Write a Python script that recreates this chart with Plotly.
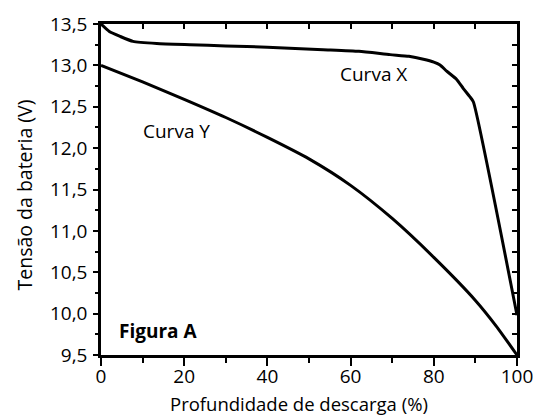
import plotly.graph_objects as go

# Curve X
depth_x = [0, 2, 4.6, 7.7, 13.4, 21.4, 30, 40, 53.4, 62, 69.5, 74, 77.5, 80, 81.5, 83.1, 85.5, 87.1, 88.7, 89.5, 100]
volt_x = [13.5, 13.41, 13.35, 13.29, 13.265, 13.25, 13.235, 13.22, 13.19, 13.17, 13.13, 13.11, 13.075, 13.04, 13.005, 12.93, 12.83, 12.72, 12.62, 12.56, 9.98]

# Curve Y
depth_y = [0, 10, 20, 30, 40, 50, 60, 70, 80, 90, 95, 100]
volt_y = [13.0, 12.80, 12.59, 12.37, 12.13, 11.87, 11.55, 11.15, 10.68, 10.16, 9.85, 9.5]

x_ticks = [0, 20, 40, 60, 80, 100]
y_ticks = [9.5, 10.0, 10.5, 11.0, 11.5, 12.0, 12.5, 13.0, 13.5]

x_title = "Profundidade de descarga (%)"
y_title = "Tensão da bateria (V)"

FONT = "Open Sans"

fig = go.Figure()
fig.add_trace(go.Scatter(x=depth_x, y=volt_x, mode="lines",
                         line=dict(color="black", width=3, shape="spline", smoothing=0.5),
                         showlegend=False, hoverinfo="skip"))
fig.add_trace(go.Scatter(x=depth_y, y=volt_y, mode="lines",
                         line=dict(color="black", width=3, shape="spline", smoothing=0.6),
                         showlegend=False, hoverinfo="skip"))
# invisible trace to create the mirrored (top/right) axes
fig.add_trace(go.Scatter(x=[0], y=[9.5], xaxis="x2", yaxis="y2", mode="markers",
                         marker=dict(opacity=0), showlegend=False, hoverinfo="skip"))

fig.add_annotation(x=65.6, y=12.896, text="Curva X", showarrow=False,
                   font=dict(size=19, color="black", family=FONT))
fig.add_annotation(x=18.2, y=12.213, text="Curva Y", showarrow=False,
                   font=dict(size=19, color="black", family=FONT))
fig.add_annotation(x=13.8, y=9.796, text="<b>Figura A</b>", showarrow=False,
                   font=dict(size=19, color="black", family=FONT))

# axis titles placed as paper annotations
fig.add_annotation(xref="paper", yref="paper", x=(299 - 101) / 416, y=(355 - 403) / 331,
                   text=x_title, showarrow=False, xanchor="center", yanchor="middle",
                   font=dict(size=18.5, color="black", family=FONT))
fig.add_annotation(xref="paper", yref="paper", x=(23.5 - 101) / 416, y=(355 - 195) / 331,
                   text=y_title, showarrow=False, textangle=-90, xanchor="center", yanchor="middle",
                   font=dict(size=19.5, color="black", family=FONT))

fig.update_layout(
    width=533, height=415,
    margin=dict(l=101, r=16, t=24, b=60, autoexpand=False),
    paper_bgcolor="white", plot_bgcolor="white",
    separators=",.",
    font=dict(family=FONT, size=16, color="black"),
    xaxis=dict(range=[0, 100], tickvals=x_ticks, ticks="outside", ticklen=8, tickwidth=2,
               tickcolor="black", showline=True, linecolor="black", linewidth=2.5,
               showgrid=False, zeroline=False, automargin=False, ticklabeloverflow="allow",
               ticklabelstandoff=-6,
               minor=dict(dtick=10, tick0=0, ticks="outside", ticklen=5, tickwidth=2, tickcolor="black"),
               tickfont=dict(size=19, family=FONT)),
    yaxis=dict(range=[9.5, 13.5], tickvals=y_ticks, tickformat=".1f", ticks="outside",
               ticklen=5, tickwidth=2, tickcolor="black", showline=True, linecolor="black",
               linewidth=2.5, showgrid=False, zeroline=False, automargin=False,
               ticklabeloverflow="allow", ticklabelstandoff=2,
               minor=dict(dtick=0.25, tick0=9.5, ticks="outside", ticklen=3, tickwidth=2, tickcolor="black"),
               tickfont=dict(size=19, family=FONT)),
    xaxis2=dict(range=[0, 100], overlaying="x", side="top", anchor="y", dtick=10, tick0=0,
                ticks="inside", ticklen=5, tickwidth=2, tickcolor="black", showticklabels=False,
                showline=True, linecolor="black", linewidth=2.5, showgrid=False, zeroline=False),
    yaxis2=dict(range=[9.5, 13.5], overlaying="y", side="right", anchor="x", dtick=0.25, tick0=9.5,
                ticks="inside", ticklen=5, tickwidth=2, tickcolor="black", showticklabels=False,
                showline=True, linecolor="black", linewidth=2.5, showgrid=False, zeroline=False),
)

fig.write_html("out.html", config={"displayModeBar": False},
               post_script="document.body.style.margin='0';document.body.style.padding='0';")
